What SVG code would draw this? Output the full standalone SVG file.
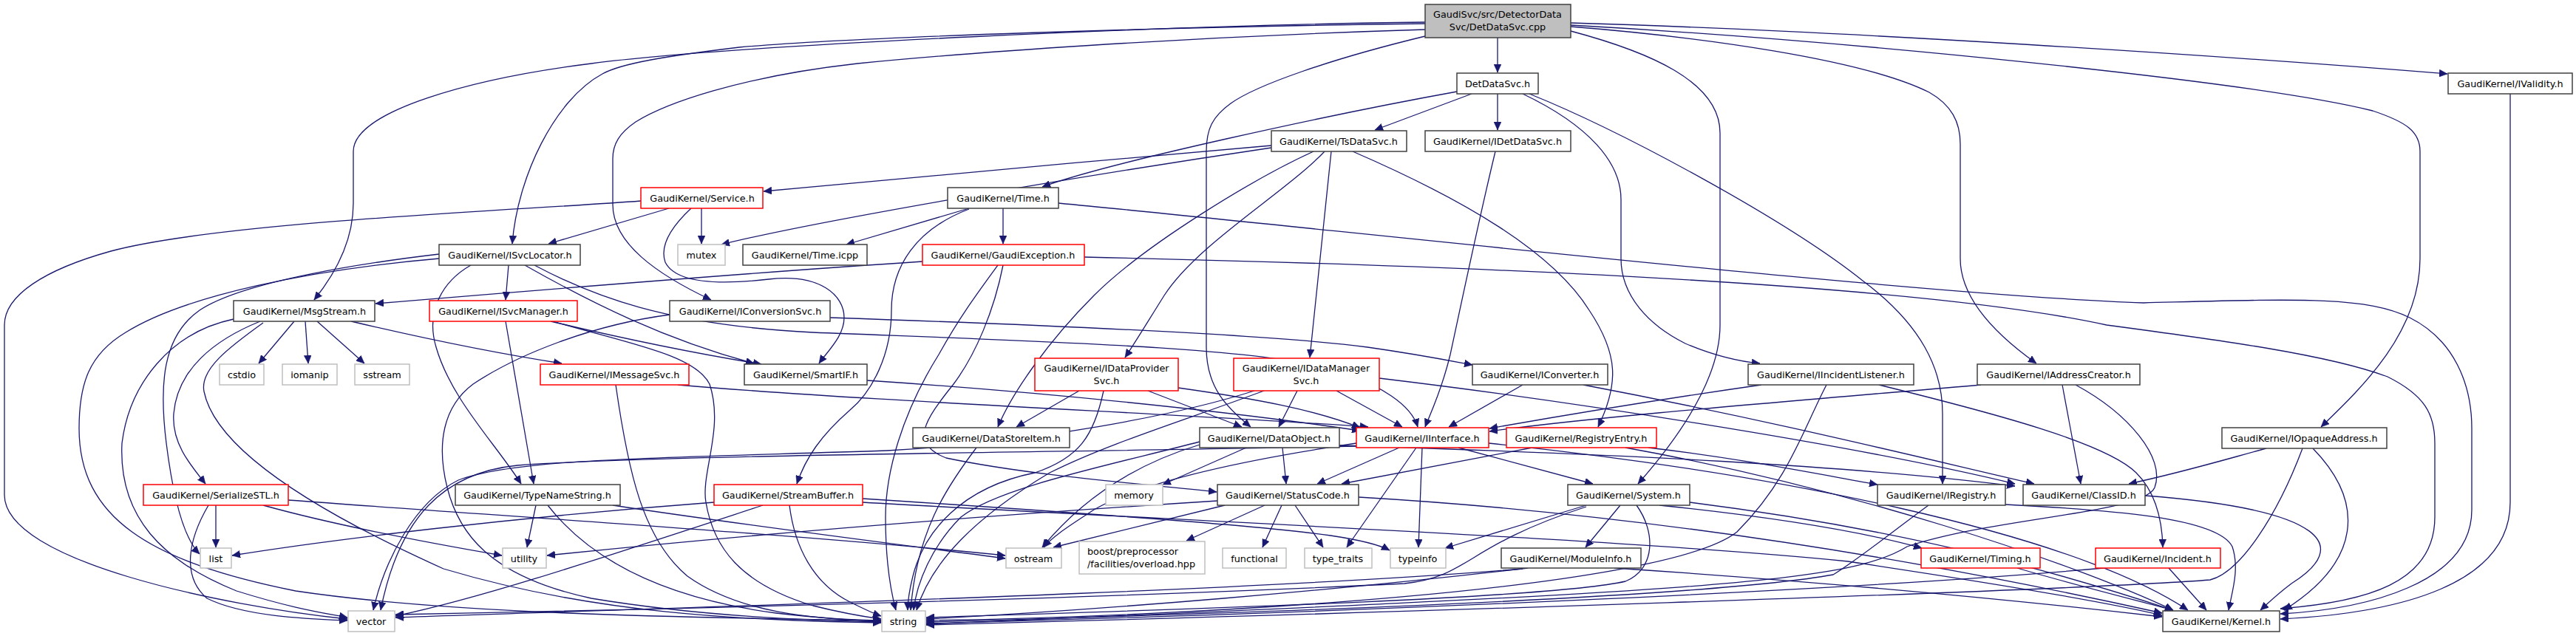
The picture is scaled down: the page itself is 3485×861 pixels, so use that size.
<svg xmlns="http://www.w3.org/2000/svg" width="3485" height="861" viewBox="0 0 3485 861">
<defs>
<marker id="a" viewBox="0 0 11 10" refX="11" refY="5" markerWidth="11" markerHeight="10" markerUnits="userSpaceOnUse" orient="auto"><path d="M0,0L11,5L0,10z" fill="#191970" stroke="#191970" stroke-width="0.5"/></marker>
</defs>
<style>
rect{fill:#fff;stroke-width:1.5}
.k rect{stroke:#404040}
.r rect{stroke:#ff0000}
.g rect{stroke:#bfbfbf}
.root rect{fill:#bfbfbf;stroke:#404040}
text{font-family:"DejaVu Sans","Liberation Sans",sans-serif;font-size:12.8px;fill:#000;text-anchor:middle}
#edges path{fill:none;stroke:#191970;stroke-width:1.3;marker-end:url(#a)}
</style>
<rect x="0" y="0" width="3485" height="861" style="fill:#fff;stroke:none"/>
<g id="edges">
<path d="M2026,51 L2026,98"/>
<path d="M1928,30 C1600,34 1000,60 800,86 C640,106 478,150 478,205 L478,275 C478,330 450,375 425,406"/>
<path d="M1928,32 C1600,36 1150,50 1000,64 C900,76 840,86 815,100 C750,135 700,240 693,330"/>
<path d="M1928,40 C1600,50 1300,72 1160,86 C1000,104 900,140 860,165 C838,180 829,195 829,215 L829,277 C829,330 890,372 962,406"/>
<path d="M1928,49 C1800,80 1700,115 1665,140 C1640,158 1632,175 1632,205 L1632,470 C1632,525 1660,552 1692,578"/>
<path d="M2125,42 C2230,70 2327,110 2327,180 L2327,440 C2327,520 2260,605 2216,655"/>
<path d="M2125,36 C2300,50 2520,80 2610,125 C2640,142 2652,165 2652,195 L2652,350 C2652,410 2710,460 2755,492"/>
<path d="M2125,31 C2500,42 3000,75 3311,100"/>
<path d="M2125,34 C2500,55 3050,110 3210,150 C3255,165 3274,178 3274,205 L3274,350 C3274,450 3195,525 3140,578"/>
<path d="M1971,124 C1800,155 1500,220 1410,253"/>
<path d="M1991,127 L1860,176"/>
<path d="M2026,127 L2026,176"/>
<path d="M2060,127 C2150,170 2193,220 2193,270 L2193,350 C2193,400 2230,440 2280,465 C2320,482 2350,489 2381,492"/>
<path d="M2069,127 C2200,180 2420,300 2520,380 C2600,440 2628,500 2628,560 L2628,655"/>
<path d="M1720,197 C1500,215 1200,245 1033,259"/>
<path d="M1720,200 C1450,240 1100,300 976,331"/>
<path d="M1777,205 C1700,240 1550,330 1480,400 C1420,460 1370,530 1350,578"/>
<path d="M1792,205 C1740,260 1620,330 1575,400 C1550,440 1535,465 1522,484"/>
<path d="M1801,205 L1772,484"/>
<path d="M1830,205 C1980,270 2100,340 2150,420 C2190,480 2190,520 2162,578"/>
<path d="M2023,205 C2000,300 1975,420 1962,480 C1950,530 1935,560 1928,578"/>
<path d="M3396,127 L3396,680 C3396,790 3250,830 3085,838"/>
<path d="M905,282 L742,330"/>
<path d="M949,282 L949,330"/>
<path d="M935,282 C905,310 893,335 900,355 C915,385 980,385 1040,378 C1110,370 1142,400 1142,430 C1142,455 1120,475 1108,492"/>
<path d="M867,272 C700,285 300,300 150,340 C60,365 6,400 6,440 L6,670 C6,760 300,820 470,838"/>
<path d="M1311,282 L1145,331"/>
<path d="M1357,282 L1357,330"/>
<path d="M1432,275 C1800,310 2600,400 2900,410 C3100,405 3200,400 3260,430 C3320,460 3344,520 3344,580 L3344,690 C3344,790 3200,825 3085,831"/>
<path d="M1311,283 C1240,310 1206,360 1206,420 C1206,480 1180,530 1150,555 C1110,590 1090,620 1078,655"/>
<path d="M688,359 L684,406"/>
<path d="M637,359 C600,380 575,420 590,470 C610,540 670,600 705,655"/>
<path d="M710,359 C800,410 900,460 1020,492"/>
<path d="M723,359 C800,400 900,440 1100,450 C1400,462 1700,470 1800,500 C1870,520 1910,550 1918,578"/>
<path d="M594,344 C500,355 330,380 270,420 C220,455 215,520 225,600 C235,680 250,730 270,750"/>
<path d="M594,350 C420,365 250,400 170,450 C120,480 107,520 107,580 C107,700 200,760 400,800 C600,830 900,836 1192,840"/>
<path d="M1248,354 C1000,370 700,395 508,411"/>
<path d="M1467,348 C2000,360 2600,385 2850,440 C3000,460 3150,480 3230,510 C3280,535 3294,560 3294,600 L3294,700 C3294,790 3200,815 3085,824"/>
<path d="M1350,359 C1320,400 1298,430 1270,480 C1220,560 1198,640 1198,700 C1198,760 1205,800 1212,826"/>
<path d="M1357,359 C1345,420 1320,480 1290,520 C1250,570 1230,600 1280,620 C1400,645 1550,655 1646,666"/>
<path d="M398,435 L350,492"/>
<path d="M413,435 L417,492"/>
<path d="M429,435 L493,492"/>
<path d="M352,435 C290,460 240,500 235,560 C232,600 258,630 278,655"/>
<path d="M475,435 C560,455 650,475 760,492"/>
<path d="M356,437 C310,470 270,500 276,530 C290,600 400,680 600,770 C800,830 1000,840 1192,843"/>
<path d="M316,432 C230,450 175,520 165,600 C160,700 220,760 320,800 C400,825 440,830 470,836"/>
<path d="M684,435 L722,655"/>
<path d="M745,435 C850,460 950,480 1030,493"/>
<path d="M748,435 C850,465 940,480 960,520 C980,580 948,640 955,680 C965,740 1000,790 1100,820 C1140,830 1170,835 1192,838"/>
<path d="M1123,430 C1300,436 1700,450 1850,470 C1920,480 1960,488 1992,494"/>
<path d="M906,426 C800,440 700,480 640,520 C600,550 590,600 605,660 C620,720 660,780 800,810 C950,835 1100,840 1192,842"/>
<path d="M1460,529 L1375,578"/>
<path d="M1553,529 L1680,578"/>
<path d="M1493,529 C1480,590 1460,620 1400,640 C1300,660 1250,720 1235,780 C1230,800 1228,815 1228,826"/>
<path d="M1594,525 C1700,540 1780,555 1840,579"/>
<path d="M1755,529 L1730,578"/>
<path d="M1808,529 L1897,578"/>
<path d="M1710,529 C1600,570 1500,600 1420,640 C1320,700 1260,760 1240,826"/>
<path d="M1697,529 C1600,560 1400,600 1200,610 C900,620 700,620 620,650 C560,680 520,760 505,826"/>
<path d="M1866,512 C2100,540 2500,600 2726,655"/>
<path d="M2060,521 L1960,578"/>
<path d="M2142,521 C2400,570 2600,620 2752,655"/>
<path d="M2383,521 C2250,540 2100,565 2015,580"/>
<path d="M2542,521 C2700,560 2850,600 2890,640 C2915,665 2925,700 2926,741"/>
<path d="M2471,521 C2440,580 2420,650 2350,720 C2250,800 1600,835 1253,840"/>
<path d="M2680,521 C2400,545 2150,565 2015,584"/>
<path d="M2790,521 L2815,655"/>
<path d="M2808,521 C2880,560 2930,620 2915,660 C2900,695 2700,700 2580,740 C2500,790 2300,800 1253,845"/>
<path d="M917,521 C1200,545 1600,560 1851,578"/>
<path d="M833,521 C850,640 870,730 930,780 C1000,830 1100,838 1192,841"/>
<path d="M1173,515 C1400,530 1650,555 1840,583"/>
<path d="M1321,606 C1280,660 1240,720 1232,826"/>
<path d="M1735,606 L1740,655"/>
<path d="M1686,606 L1573,656"/>
<path d="M1623,602 C1530,630 1460,680 1410,741"/>
<path d="M1623,598 C1500,630 1350,660 1300,700 C1260,740 1240,790 1236,826"/>
<path d="M1812,603 C2200,615 2500,630 2726,658"/>
<path d="M1893,606 L1782,655"/>
<path d="M1916,606 L1822,741"/>
<path d="M1924,606 L1919,741"/>
<path d="M1973,606 L2155,655"/>
<path d="M1835,600 C1700,620 1550,650 1480,690 C1450,710 1425,725 1412,741"/>
<path d="M2014,600 C2400,640 2800,720 2960,826"/>
<path d="M1835,604 C1500,612 900,615 700,630 C600,640 540,700 515,826"/>
<path d="M2230,606 C2350,620 2450,640 2540,656"/>
<path d="M2073,606 L1815,655"/>
<path d="M2199,606 C2500,660 2800,760 2940,826"/>
<path d="M292,684 L292,741"/>
<path d="M282,684 C255,730 245,780 280,810 C330,835 420,838 470,840"/>
<path d="M390,677 C700,700 1100,725 1360,752"/>
<path d="M356,684 C450,710 580,735 679,752"/>
<path d="M725,684 L713,741"/>
<path d="M741,684 C800,760 900,810 1050,830 C1120,838 1160,840 1192,840"/>
<path d="M829,684 C1000,710 1200,735 1360,756"/>
<path d="M966,680 C700,700 450,730 314,752"/>
<path d="M1032,684 C800,760 650,810 535,834"/>
<path d="M1068,684 C1075,740 1100,790 1150,815 C1170,825 1180,830 1192,834"/>
<path d="M1167,675 C1400,690 1700,710 1800,725 C1840,731 1865,737 1880,745"/>
<path d="M1167,680 C1600,705 2200,730 2500,760 C2700,790 2850,815 2925,833"/>
<path d="M1711,684 L1605,732"/>
<path d="M1734,684 L1708,741"/>
<path d="M1657,684 L1425,741"/>
<path d="M1647,678 C1300,700 1000,725 740,752"/>
<path d="M1752,684 L1790,741"/>
<path d="M1838,673 C2300,700 2700,780 2925,830"/>
<path d="M2146,684 L1955,742"/>
<path d="M2192,684 L2145,741"/>
<path d="M2245,684 C2400,700 2520,720 2600,742"/>
<path d="M2286,680 C2600,720 2800,780 2940,826"/>
<path d="M2214,684 C2240,720 2240,770 2199,787 C2100,810 1600,825 1253,836"/>
<path d="M2146,686 C1980,740 1990,780 1900,790 C1500,810 900,825 535,832"/>
<path d="M2184,769 C2500,790 2750,815 2925,835"/>
<path d="M2067,769 C1800,800 1500,825 1253,838"/>
<path d="M2060,770 C1700,800 1000,820 535,836"/>
<path d="M2729,769 C2800,790 2880,810 2940,826"/>
<path d="M2934,769 L2985,826"/>
<path d="M2846,769 C2500,800 1800,830 1253,844"/>
<path d="M2713,683 C2850,690 3000,700 3020,740 C3030,770 3020,800 3015,826"/>
<path d="M2609,684 C2560,720 2510,760 2480,778 C2300,810 1700,830 1253,842"/>
<path d="M2902,671 C3150,690 3180,740 3100,790 C3080,805 3070,815 3058,826"/>
<path d="M3129,607 C3200,680 3195,760 3090,826"/>
<path d="M3115,607 C3080,700 3030,775 2990,785 C2800,800 1800,832 1253,846"/>
<path d="M3066,607 C3000,625 2950,640 2880,655"/>
</g>
<g id="n_root" class="root"><rect x="1928" y="6" width="197" height="45"/><text x="2026" y="24">GaudiSvc/src/DetectorData</text><text x="2026" y="41">Svc/DetDataSvc.cpp</text></g>
<g id="n_detdatasvc" class="k"><rect x="1971" y="99" width="110" height="28"/><text x="2026" y="118">DetDataSvc.h</text></g>
<g id="n_tsdatasvc" class="k"><rect x="1720" y="177" width="183" height="28"/><text x="1811" y="196">GaudiKernel/TsDataSvc.h</text></g>
<g id="n_idetdatasvc" class="k"><rect x="1928" y="177" width="197" height="28"/><text x="2026" y="196">GaudiKernel/IDetDataSvc.h</text></g>
<g id="n_ivalidity" class="k"><rect x="3312" y="99" width="168" height="28"/><text x="3396" y="118">GaudiKernel/IValidity.h</text></g>
<g id="n_service" class="r"><rect x="867" y="254" width="165" height="28"/><text x="950" y="273">GaudiKernel/Service.h</text></g>
<g id="n_time" class="k"><rect x="1282" y="254" width="150" height="28"/><text x="1357" y="273">GaudiKernel/Time.h</text></g>
<g id="n_isvclocator" class="k"><rect x="594" y="331" width="191" height="28"/><text x="690" y="350">GaudiKernel/ISvcLocator.h</text></g>
<g id="n_mutex" class="g"><rect x="917" y="331" width="64" height="28"/><text x="949" y="350">mutex</text></g>
<g id="n_timeicpp" class="k"><rect x="1005" y="331" width="168" height="28"/><text x="1089" y="350">GaudiKernel/Time.icpp</text></g>
<g id="n_gaudiexception" class="r"><rect x="1248" y="331" width="219" height="28"/><text x="1357" y="350">GaudiKernel/GaudiException.h</text></g>
<g id="n_msgstream" class="k"><rect x="316" y="407" width="191" height="28"/><text x="412" y="426">GaudiKernel/MsgStream.h</text></g>
<g id="n_isvcmanager" class="r"><rect x="581" y="407" width="200" height="28"/><text x="681" y="426">GaudiKernel/ISvcManager.h</text></g>
<g id="n_iconversionsvc" class="k"><rect x="906" y="407" width="217" height="28"/><text x="1015" y="426">GaudiKernel/IConversionSvc.h</text></g>
<g id="n_idataprovidersvc" class="r"><rect x="1400" y="485" width="194" height="44"/><text x="1497" y="503">GaudiKernel/IDataProvider</text><text x="1497" y="520">Svc.h</text></g>
<g id="n_idatamanagersvc" class="r"><rect x="1669" y="485" width="197" height="44"/><text x="1767" y="503">GaudiKernel/IDataManager</text><text x="1767" y="520">Svc.h</text></g>
<g id="n_iconverter" class="k"><rect x="1992" y="493" width="183" height="28"/><text x="2083" y="512">GaudiKernel/IConverter.h</text></g>
<g id="n_iincidentlistener" class="k"><rect x="2365" y="493" width="224" height="28"/><text x="2477" y="512">GaudiKernel/IIncidentListener.h</text></g>
<g id="n_iaddresscreator" class="k"><rect x="2675" y="493" width="220" height="28"/><text x="2785" y="512">GaudiKernel/IAddressCreator.h</text></g>
<g id="n_imessagesvc" class="r"><rect x="731" y="493" width="201" height="28"/><text x="831" y="512">GaudiKernel/IMessageSvc.h</text></g>
<g id="n_smartif" class="k"><rect x="1007" y="493" width="166" height="28"/><text x="1090" y="512">GaudiKernel/SmartIF.h</text></g>
<g id="n_datastoreitem" class="k"><rect x="1235" y="579" width="212" height="27"/><text x="1341" y="598">GaudiKernel/DataStoreItem.h</text></g>
<g id="n_dataobject" class="k"><rect x="1623" y="579" width="189" height="27"/><text x="1717" y="598">GaudiKernel/DataObject.h</text></g>
<g id="n_iinterface" class="r"><rect x="1835" y="579" width="179" height="27"/><text x="1924" y="598">GaudiKernel/IInterface.h</text></g>
<g id="n_registryentry" class="r"><rect x="2038" y="579" width="203" height="27"/><text x="2139" y="598">GaudiKernel/RegistryEntry.h</text></g>
<g id="n_iopaqueaddress" class="k"><rect x="3006" y="579" width="223" height="28"/><text x="3117" y="598">GaudiKernel/IOpaqueAddress.h</text></g>
<g id="n_serializestl" class="r"><rect x="194" y="656" width="196" height="28"/><text x="292" y="675">GaudiKernel/SerializeSTL.h</text></g>
<g id="n_typenamestring" class="k"><rect x="616" y="656" width="223" height="28"/><text x="727" y="675">GaudiKernel/TypeNameString.h</text></g>
<g id="n_streambuffer" class="r"><rect x="966" y="656" width="201" height="28"/><text x="1066" y="675">GaudiKernel/StreamBuffer.h</text></g>
<g id="n_memory" class="g"><rect x="1496" y="656" width="77" height="28"/><text x="1534" y="675">memory</text></g>
<g id="n_statuscode" class="k"><rect x="1647" y="656" width="191" height="28"/><text x="1742" y="675">GaudiKernel/StatusCode.h</text></g>
<g id="n_system" class="k"><rect x="2121" y="656" width="165" height="28"/><text x="2203" y="675">GaudiKernel/System.h</text></g>
<g id="n_iregistry" class="k"><rect x="2540" y="656" width="173" height="28"/><text x="2626" y="675">GaudiKernel/IRegistry.h</text></g>
<g id="n_classid" class="k"><rect x="2737" y="656" width="165" height="28"/><text x="2819" y="675">GaudiKernel/ClassID.h</text></g>
<g id="n_cstdio" class="g"><rect x="297" y="493" width="60" height="28"/><text x="327" y="512">cstdio</text></g>
<g id="n_iomanip" class="g"><rect x="382" y="493" width="74" height="28"/><text x="419" y="512">iomanip</text></g>
<g id="n_sstream" class="g"><rect x="480" y="493" width="74" height="28"/><text x="517" y="512">sstream</text></g>
<g id="n_list" class="g"><rect x="271" y="742" width="42" height="27"/><text x="292" y="761">list</text></g>
<g id="n_utility" class="g"><rect x="680" y="742" width="59" height="27"/><text x="709" y="761">utility</text></g>
<g id="n_ostream" class="g"><rect x="1361" y="742" width="75" height="27"/><text x="1398" y="761">ostream</text></g>
<g id="n_boost" class="g"><rect x="1460" y="733" width="170" height="44"/><text x="1471" y="751" style="text-anchor:start">boost/preprocessor</text><text x="1471" y="768" style="text-anchor:start">/facilities/overload.hpp</text></g>
<g id="n_functional" class="g"><rect x="1654" y="742" width="86" height="27"/><text x="1697" y="761">functional</text></g>
<g id="n_type_traits" class="g"><rect x="1765" y="742" width="91" height="27"/><text x="1810" y="761">type_traits</text></g>
<g id="n_typeinfo" class="g"><rect x="1881" y="742" width="75" height="27"/><text x="1918" y="761">typeinfo</text></g>
<g id="n_moduleinfo" class="k"><rect x="2031" y="742" width="189" height="27"/><text x="2125" y="761">GaudiKernel/ModuleInfo.h</text></g>
<g id="n_timing" class="r"><rect x="2599" y="742" width="161" height="27"/><text x="2679" y="761">GaudiKernel/Timing.h</text></g>
<g id="n_incident" class="r"><rect x="2835" y="742" width="169" height="27"/><text x="2919" y="761">GaudiKernel/Incident.h</text></g>
<g id="n_vector" class="g"><rect x="471" y="827" width="63" height="28"/><text x="502" y="846">vector</text></g>
<g id="n_string" class="g"><rect x="1193" y="827" width="59" height="28"/><text x="1222" y="846">string</text></g>
<g id="n_kernel" class="k"><rect x="2926" y="827" width="158" height="28"/><text x="3005" y="846">GaudiKernel/Kernel.h</text></g>
</svg>
